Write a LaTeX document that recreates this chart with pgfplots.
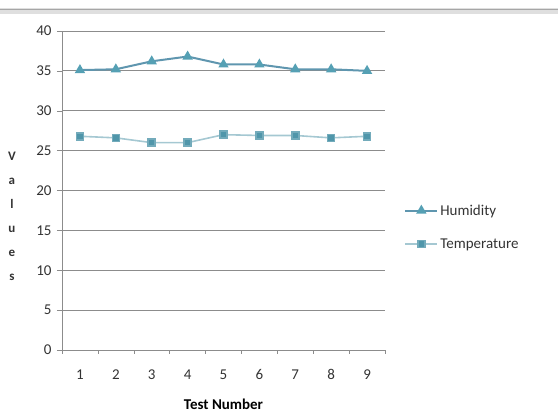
\documentclass[border=0pt]{standalone}
\usepackage{pgfplots}
\pgfplotsset{compat=1.18}
\usepackage{fontspec}
\setmainfont{Carlito}
\definecolor{humline}{RGB}{95,150,175}
\definecolor{hummark}{RGB}{85,160,180}
\definecolor{templine}{RGB}{165,200,210}
\definecolor{tempmark}{RGB}{80,150,170}
\definecolor{gridc}{RGB}{140,140,140}
\begin{document}
\begin{tikzpicture}[x=1pt,y=1pt]
\useasboundingbox (0,0) rectangle (558,420);
% grey rule along the top of the image
\fill[gray!25] (0,406) rectangle (558,412);
\draw[gray!70, line width=1pt] (0,410) -- (558,410);
\begin{axis}[
    at={(62pt,70pt)}, anchor=south west,
    scale only axis,
    width=323pt, height=319pt,
    xmin=0.5, xmax=9.5,
    ymin=0, ymax=40,
    axis lines=left,
    axis line style={gridc, -},
    xtick={1,...,9},
    minor xtick={0.5,1.5,...,9.5},
    ytick={0,5,...,40},
    tick align=outside,
    major x tick style={draw=none},
    minor tick length=4pt,
    major tick length=5pt,
    every tick/.style={gridc},
    ymajorgrids,
    grid style={gridc, line width=0.9pt},
    /pgf/number format/assume math mode=true,
    tick label style={font=\fontsize{15}{17}\selectfont, text=black!80},
    yticklabel style={xshift=-2pt},
    xticklabel style={yshift=-11pt},
    xlabel={\textbf{Test Number}},
    xlabel style={font=\fontsize{15}{17}\selectfont, yshift=-12pt},
    ylabel={V\\a\\l\\u\\e\\s},
    ylabel style={rotate=-90, align=center, font=\fontsize{13}{24}\selectfont\bfseries,
        text=black!80, at={(rel axis cs:-0.155,0.42)}, anchor=center},
    legend image code/.code={%
        \draw[mark repeat=2,mark phase=2,#1]
            plot coordinates {(0pt,0pt) (16pt,0pt) (32pt,0pt)};},
    legend style={at={(rel axis cs:1.05,0.385)}, anchor=west, draw=none, fill=none,
        font=\fontsize{15}{17}\selectfont, row sep=18pt, legend cell align=left,
        text=black!80},
]
\addplot[humline, line width=2pt, mark=triangle*, mark size=4pt,
    mark options={fill=hummark, draw=hummark}]
  coordinates {(1,35.1) (2,35.2) (3,36.2) (4,36.8) (5,35.8) (6,35.8) (7,35.2) (8,35.2) (9,35.0)};
\addlegendentry{Humidity}
\addplot[templine, line width=1.6pt, mark=square*, mark size=3.5pt,
    mark options={fill=tempmark, draw=tempmark!80}]
  coordinates {(1,26.8) (2,26.6) (3,26.0) (4,26.0) (5,27.0) (6,26.9) (7,26.9) (8,26.6) (9,26.8)};
\addlegendentry{Temperature}
\end{axis}
\end{tikzpicture}
\end{document}
